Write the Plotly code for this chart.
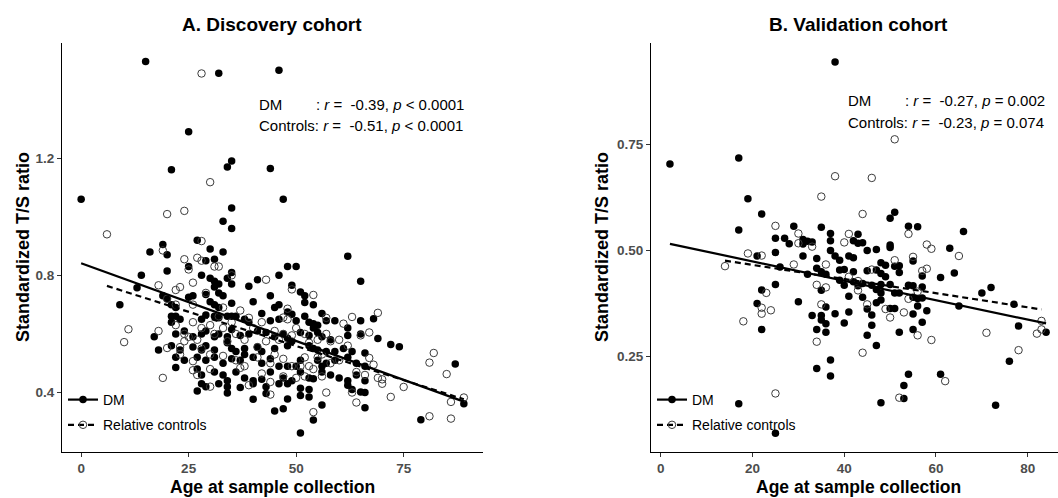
import plotly.graph_objects as go

# ---------------- data ----------------
# Panel A: Discovery cohort  (age, standardized T/S ratio)
a_dm = [
    (15,1.53),(32,1.49),(46,1.50),(25,1.29),(21,1.16),(34,1.17),(35,1.19),(44,1.165),(0,1.06),(47,1.06),
    (35,1.03),(33,0.985),(35,0.96),(27,0.92),(19,0.905),(30,0.89),(16,0.88),(33,0.88),(20,0.87),(62,0.865),
    (29,0.85),(31,0.855),(25,0.83),(48,0.83),(50,0.83),(14,0.80),(20,0.815),(28,0.80),(35,0.81),(46,0.80),
    (65,0.78),(41,0.785),(13,0.758),(39,0.763),(49,0.766),(51,0.743),(44,0.73),(9,0.70),
    (30,0.79),(31,0.78),(32,0.77),(34,0.79),(35,0.77),
    (19,0.73),(20,0.72),(25,0.725),(26,0.73),(29,0.735),(31,0.76),(32,0.74),(33,0.73),(52,0.73),(21,0.70),
    (22,0.69),(30,0.71),(31,0.70),(32,0.69),(35,0.705),(40,0.71),(45,0.69),(46,0.70),(52,0.707),(54,0.70),(56,0.67),
    (21,0.66),(21,0.64),(22,0.66),(23,0.65),(28,0.65),(29,0.665),(31,0.66),(32,0.655),(34,0.66),(35,0.66),
    (36,0.66),(38,0.65),(39,0.64),(42,0.67),(44,0.645),(46,0.65),(48,0.675),(49,0.667),(50,0.645),(52,0.66),
    (53,0.64),(54,0.635),(55,0.63),(57,0.645),(59,0.645),(62,0.62),(65,0.645),(68,0.652),
    (17,0.59),(22,0.60),(24,0.61),(26,0.59),(28,0.60),(29,0.61),(31,0.59),(32,0.60),(34,0.59),(35,0.615),
    (37,0.595),(39,0.60),(41,0.61),(43,0.605),(45,0.59),(47,0.60),(48,0.585),(51,0.605),(53,0.595),(54,0.62),
    (55,0.605),(56,0.59),(58,0.58),(62,0.595),(65,0.60),(69,0.584),
    (18,0.545),(21,0.56),(23,0.545),(26,0.555),(28,0.545),(29,0.56),(31,0.545),(34,0.57),(35,0.55),(36,0.54),
    (38,0.55),(41,0.555),(42,0.54),(45,0.55),(48,0.56),(49,0.575),(53,0.56),(54,0.55),(55,0.545),(57,0.54),
    (59,0.54),(61,0.55),(63,0.54),(66,0.535),(72,0.564),(74,0.556),
    (22,0.52),(24,0.51),(27,0.52),(29,0.51),(31,0.52),(33,0.50),(35,0.515),(37,0.51),(38,0.53),(40,0.52),
    (42,0.50),(44,0.515),(46,0.49),(48,0.49),(50,0.49),(51,0.51),(55,0.51),(56,0.49),(57,0.50),(59,0.51),
    (62,0.52),(64,0.50),(66,0.49),(87,0.497),
    (22,0.485),(27,0.48),(28,0.46),(31,0.47),(33,0.46),(34,0.44),(36,0.47),(38,0.45),(40,0.44),(42,0.445),
    (44,0.47),(47,0.45),(49,0.44),(51,0.47),(53,0.45),(54,0.447),(56,0.47),(58,0.46),(60,0.45),(62,0.44),
    (64,0.46),(66,0.44),
    (28,0.43),(29,0.42),(32,0.43),(34,0.42),(37,0.417),(40,0.43),(43,0.42),(46,0.43),(48,0.43),(51,0.415),
    (53,0.41),(62,0.425),(63,0.41),(65,0.402),(66,0.40),
    (27,0.405),(34,0.398),(43,0.397),(40,0.377),(48,0.378),(51,0.39),(53,0.385),(45,0.337),(47,0.345),
    (56,0.357),(66,0.348),(54,0.306),(51,0.262),(79,0.307),(89,0.362),
]
a_ctl = [
    (28,1.489),(30,1.118),(24,1.02),(20,1.009),(6,0.94),(28,0.917),(19,0.885),(24,0.855),(27,0.86),(28,0.85),
    (31,0.83),(32,0.83),(25,0.82),(43,0.785),(35,0.80),(18,0.766),(26,0.775),(22,0.75),(23,0.76),(29,0.74),
    (54,0.733),(49,0.752),(20,0.72),(22,0.70),(26,0.70),(33,0.69),(47,0.656),(48,0.686),(69,0.672),(63,0.658),
    (61,0.635),(57,0.655),(11,0.616),(18,0.61),(10,0.572),(65,0.595),(67,0.605),(20,0.552),(23,0.555),(24,0.575),
    (60,0.58),(62,0.56),(19,0.45),(26,0.507),(26,0.476),(27,0.46),(30,0.42),(30,0.48),(37,0.484),(39,0.425),
    (42,0.465),(44,0.436),(44,0.393),(47,0.455),(49,0.49),(51,0.49),(53,0.49),(52,0.52),(56,0.455),(57,0.40),
    (54,0.333),(64,0.366),(63,0.40),(64,0.47),(66,0.46),(67,0.518),(68,0.495),(69,0.45),(70,0.445),(70,0.43),
    (72,0.385),(75,0.419),(81,0.502),(82,0.535),(85,0.463),(81,0.319),(86,0.368),(86,0.311),(89,0.383),
    (24,0.60),(25,0.59),(27,0.58),(28,0.62),(30,0.63),(31,0.60),(33,0.62),(34,0.575),(36,0.60),(38,0.58),
    (40,0.62),(41,0.555),(43,0.575),(45,0.53),(46,0.58),(47,0.60),(49,0.595),(50,0.62),(52,0.60),(53,0.57),
    (55,0.58),(56,0.53),(57,0.60),(58,0.575),(32,0.66),(35,0.64),(37,0.68),(39,0.655),(42,0.64),(28,0.55),
    (30,0.53),(33,0.525),(36,0.51),(38,0.49),(41,0.52),(44,0.50),(47,0.515),(50,0.45),(52,0.455),(54,0.48),
    (48,0.65),(55,0.52),(58,0.50),(60,0.51),(45,0.61),(23,0.53),(22,0.63),(26,0.64),
]
# fitted regression lines (end points)
a_fit_dm_age = [0, 89]
a_fit_dm_ts = [0.841, 0.369]
a_fit_ctl_age = [6, 89]
a_fit_ctl_ts = [0.764, 0.377]

# Panel B: Validation cohort
b_dm = [
    (38,0.944),(2,0.704),(17,0.718),(19,0.622),(22,0.586),(17,0.548),(51,0.59),(50,0.576),(54,0.557),(56,0.556),
    (66,0.545),(29,0.557),(35,0.555),(25,0.529),(27,0.529),(28,0.516),(31,0.526),(32,0.522),(33,0.52),(31,0.515),
    (37,0.54),(37,0.523),(43,0.538),(42,0.523),(43,0.517),(44,0.518),(45,0.50),(47,0.502),(50,0.507),(50,0.513),
    (63,0.505),(25,0.495),(21,0.487),(31,0.487),(37,0.50),(38,0.487),(39,0.477),(34,0.481),(41,0.487),(42,0.483),
    (48,0.471),(49,0.465),(51,0.463),(52,0.464),(55,0.475),(26,0.461),(34,0.458),(35,0.45),(36,0.444),(32,0.444),
    (39,0.454),(40,0.455),(42,0.45),(45,0.452),(47,0.454),(48,0.446),(52,0.448),(49,0.438),(57,0.44),(61,0.436),
    (64,0.447),(39,0.43),(40,0.418),(42,0.426),(43,0.417),(44,0.422),(46,0.418),(48,0.42),(50,0.42),(54,0.418),
    (55,0.417),(57,0.414),(72,0.413),(25,0.42),(22,0.407),(35,0.406),(47,0.408),(48,0.40),(51,0.40),(52,0.40),
    (70,0.40),(41,0.392),(44,0.39),(55,0.39),(56,0.387),(57,0.388),(48,0.383),(47,0.377),(30,0.379),(21,0.375),
    (77,0.373),(65,0.369),(36,0.367),(56,0.369),(45,0.362),(50,0.363),(51,0.363),(58,0.358),(38,0.351),(41,0.355),
    (55,0.35),(33,0.347),(35,0.347),(35,0.336),(46,0.348),(46,0.324),(40,0.329),(57,0.331),(36,0.327),(22,0.314),
    (34,0.314),(36,0.307),(52,0.307),(55,0.314),(45,0.30),(78,0.322),(84,0.307),(47,0.276),(76,0.239),(37,0.242),
    (34,0.222),(37,0.204),(54,0.208),(61,0.208),(53,0.182),(53,0.151),(48,0.141),(17,0.139),(73,0.135),(25,0.069),
]
b_ctl = [
    (51,0.762),(38,0.675),(46,0.671),(35,0.627),(44,0.586),(25,0.558),(30,0.54),(41,0.539),(54,0.539),(40,0.519),
    (30,0.517),(33,0.509),(58,0.514),(59,0.504),(19,0.493),(22,0.488),(65,0.487),(55,0.485),(51,0.477),(14,0.463),
    (29,0.467),(36,0.467),(46,0.455),(57,0.452),(58,0.457),(41,0.438),(43,0.428),(34,0.419),(36,0.413),(43,0.406),
    (56,0.403),(23,0.40),(54,0.386),(35,0.373),(45,0.373),(22,0.365),(24,0.359),(22,0.351),(49,0.362),(53,0.354),
    (50,0.342),(18,0.333),(83,0.334),(83,0.314),(82,0.304),(71,0.306),(56,0.30),(59,0.289),(34,0.285),(44,0.259),
    (78,0.265),(62,0.192),(25,0.163),(52,0.153),
]
b_fit_dm_age = [2, 84]
b_fit_dm_ts = [0.5155, 0.328]
b_fit_ctl_age = [14, 83]
b_fit_ctl_ts = [0.476, 0.361]

titles = ["A. Discovery cohort", "B. Validation cohort"]
a_xticks = [0, 25, 50, 75]
a_yticks = [0.4, 0.8, 1.2]
a_yticklabels = ["0.4", "0.8", "1.2"]
b_xticks = [0, 20, 40, 60, 80]
b_yticks = [0.25, 0.50, 0.75]
b_yticklabels = ["0.25", "0.50", "0.75"]
stats_a = ["-0.39", "< 0.0001", "-0.51", "< 0.0001"]
stats_b = ["-0.27", "= 0.002", "-0.23", "= 0.074"]

# ---------------- figure ----------------
W, H = 1058, 498
FONT = "Liberation Sans, Arial, sans-serif"

def px(xpix):
    return xpix / W

def py(ypix):
    return (H - ypix) / H

fig = go.Figure()

def add_panel(dm, ctl, fdx, fdy, fcx, fcy, xa, ya, leg):
    fig.add_trace(go.Scatter(
        x=[p[0] for p in dm], y=[p[1] for p in dm], mode="markers",
        marker=dict(symbol="circle", size=7.5, color="black", line=dict(width=0)),
        xaxis=xa, yaxis=ya, showlegend=False, hoverinfo="skip"))
    fig.add_trace(go.Scatter(
        x=[p[0] for p in ctl], y=[p[1] for p in ctl], mode="markers",
        marker=dict(symbol="circle-open", size=7.5, color="#3c3c3c", line=dict(width=1)),
        xaxis=xa, yaxis=ya, showlegend=False, hoverinfo="skip"))
    fig.add_trace(go.Scatter(
        x=fdx, y=fdy, mode="lines", line=dict(color="black", width=2.2),
        xaxis=xa, yaxis=ya, showlegend=False, hoverinfo="skip"))
    fig.add_trace(go.Scatter(
        x=fcx, y=fcy, mode="lines", line=dict(color="black", width=2.2, dash="6px,4px"),
        xaxis=xa, yaxis=ya, showlegend=False, hoverinfo="skip"))
    # legend entries
    fig.add_trace(go.Scatter(
        x=[None], y=[None], mode="lines+markers", name="DM",
        line=dict(color="black", width=2.2),
        marker=dict(symbol="circle", size=7.5, color="black"),
        xaxis=xa, yaxis=ya, legend=leg, legendgroup=leg + "dm"))
    fig.add_trace(go.Scatter(
        x=[None], y=[None], mode="lines+markers", name="Relative controls",
        line=dict(color="black", width=2.2, dash="6px,4px"),
        marker=dict(symbol="circle-open", size=7.5, color="#3c3c3c", line=dict(width=1)),
        xaxis=xa, yaxis=ya, legend=leg, legendgroup=leg + "ctl"))

add_panel(a_dm, a_ctl, a_fit_dm_age, a_fit_dm_ts, a_fit_ctl_age, a_fit_ctl_ts, "x", "y", "legend")
add_panel(b_dm, b_ctl, b_fit_dm_age, b_fit_dm_ts, b_fit_ctl_age, b_fit_ctl_ts, "x2", "y2", "legend2")

axis_common = dict(
    showline=True, linecolor="black", linewidth=1, ticks="outside", ticklen=4,
    tickcolor="#333333", tickwidth=1, showgrid=False, zeroline=False,
    tickfont=dict(family=FONT, size=13.5, color="#4d4d4d", weight="bold"),
)
y_dom = [py(452), py(43)]

fig.update_layout(
    width=W, height=H, margin=dict(l=0, r=0, t=0, b=0),
    paper_bgcolor="white", plot_bgcolor="white",
    font=dict(family=FONT, color="black"),
    xaxis=dict(domain=[px(62), px(483)], range=[-4.45, 93.45], tickvals=a_xticks,
               anchor="y", **axis_common),
    yaxis=dict(domain=y_dom, range=[0.197, 1.593], tickvals=a_yticks, ticktext=a_yticklabels,
               anchor="x", **axis_common),
    xaxis2=dict(domain=[px(651), 1.0], range=[-2.13, 86.6], tickvals=b_xticks,
                anchor="y2", **axis_common),
    yaxis2=dict(domain=y_dom, range=[0.025, 0.989], tickvals=b_yticks, ticktext=b_yticklabels,
                anchor="x2", **axis_common),
    legend=dict(x=px(63), y=py(384), xanchor="left", yanchor="top",
                bgcolor="rgba(0,0,0,0)", font=dict(family=FONT, size=14, color="black"),
                tracegroupgap=4, traceorder="grouped", itemclick=False),
    legend2=dict(x=px(652), y=py(384), xanchor="left", yanchor="top",
                 bgcolor="rgba(0,0,0,0)", font=dict(family=FONT, size=14, color="black"),
                 tracegroupgap=4, traceorder="grouped", itemclick=False),
)

ann = []
# panel titles
for t, cx in zip(titles, [272, 858]):
    ann.append(dict(text=t, x=px(cx), y=py(25), xref="paper", yref="paper",
                    xanchor="center", yanchor="middle", showarrow=False,
                    font=dict(family=FONT, size=19, color="black", weight="bold")))
# axis titles
for cx in [272, 858]:
    ann.append(dict(text="Age at sample collection", x=px(cx), y=0, xref="paper", yref="paper",
                    xanchor="center", yanchor="bottom", showarrow=False, borderpad=0,
                    font=dict(family=FONT, size=17.5, color="black", weight="bold")))
for cx in [23, 602]:
    ann.append(dict(text="Standardized T/S ratio", x=px(cx), y=py(247), xref="paper", yref="paper",
                    xanchor="center", yanchor="middle", showarrow=False, textangle=-90,
                    font=dict(family=FONT, size=18, color="black", weight="bold")))
# correlation statistics
NB = "\u00a0"
f = dict(family=FONT, size=15, color="black")
for stats, x0, y1, y2 in [(stats_a, 257, 104, 125), (stats_b, 846, 100, 123)]:
    line1 = ":" + NB + "<i>r</i>" + NB + "=" + NB + NB + stats[0] + "," + NB + "<i>p</i>" + NB + stats[1]
    line2 = "Controls:" + NB + "<i>r</i>" + NB + "=" + NB + NB + stats[2] + "," + NB + "<i>p</i>" + NB + stats[3]
    ann.append(dict(text="DM", x=px(x0), y=py(y1), xref="paper", yref="paper",
                    xanchor="left", yanchor="middle", showarrow=False, font=f))
    ann.append(dict(text=line1, x=px(x0 + 57), y=py(y1), xref="paper", yref="paper",
                    xanchor="left", yanchor="middle", showarrow=False, font=f))
    ann.append(dict(text=line2, x=px(x0), y=py(y2), xref="paper", yref="paper",
                    xanchor="left", yanchor="middle", showarrow=False, font=f))
fig.update_layout(annotations=ann)

fig.write_html("out.html")
